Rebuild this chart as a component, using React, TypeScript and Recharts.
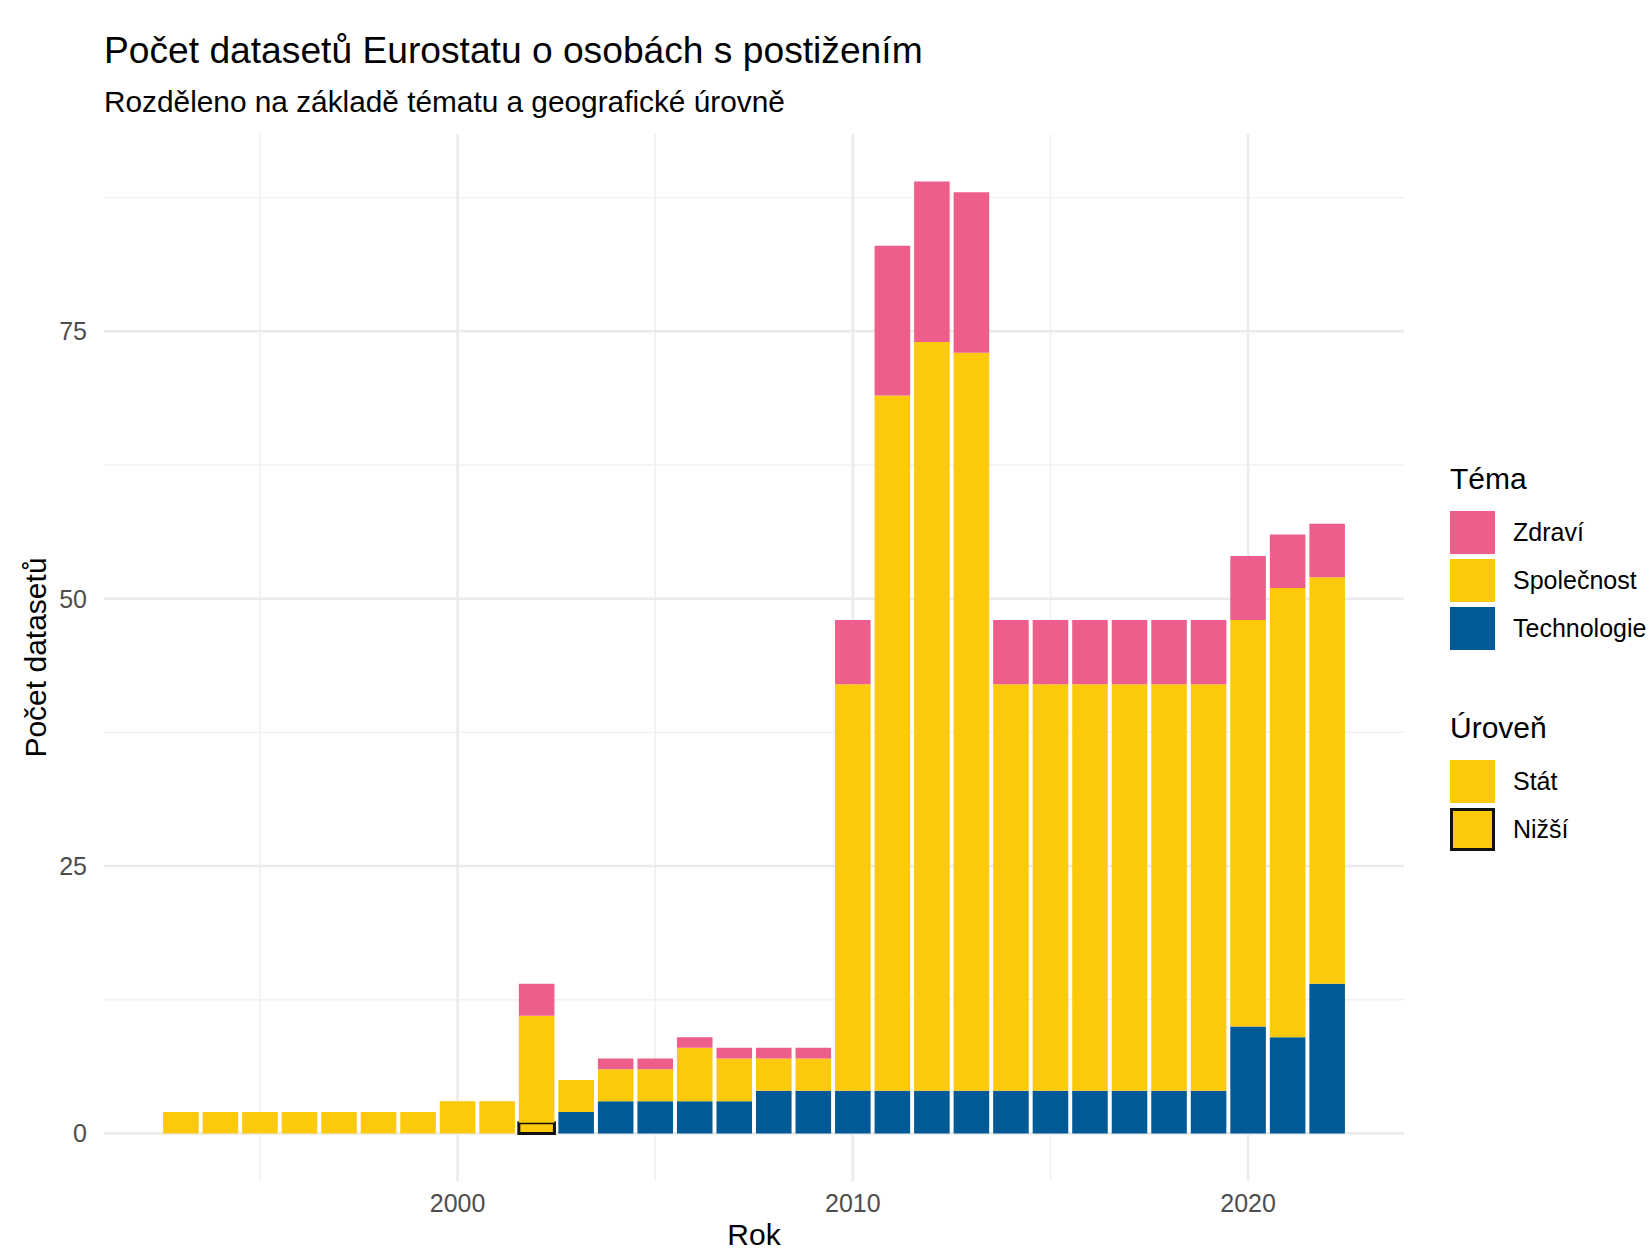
import { BarChart, Bar, XAxis, YAxis, CartesianGrid } from 'recharts'

const years = [
  1993, 1994, 1995, 1996, 1997, 1998, 1999, 2000, 2001, 2002,
  2003, 2004, 2005, 2006, 2007, 2008, 2009, 2010, 2011, 2012,
  2013, 2014, 2015, 2016, 2017, 2018, 2019, 2020, 2021, 2022,
]
const technologie = [0, 0, 0, 0, 0, 0, 0, 0, 0, 0, 2, 3, 3, 3, 3, 4, 4, 4, 4, 4, 4, 4, 4, 4, 4, 4, 4, 10, 9, 14]
const nizsi = [0, 0, 0, 0, 0, 0, 0, 0, 0, 1, 0, 0, 0, 0, 0, 0, 0, 0, 0, 0, 0, 0, 0, 0, 0, 0, 0, 0, 0, 0]
const spolecnost = [2, 2, 2, 2, 2, 2, 2, 3, 3, 10, 3, 3, 3, 5, 4, 3, 3, 38, 65, 70, 69, 38, 38, 38, 38, 38, 38, 38, 42, 38]
const zdravi = [0, 0, 0, 0, 0, 0, 0, 0, 0, 3, 0, 1, 1, 1, 1, 1, 1, 6, 14, 15, 15, 6, 6, 6, 6, 6, 6, 6, 5, 5]

const yTicks = [0, 25, 50, 75]
const yMinor = [12.5, 37.5, 62.5, 87.5]
const xTicks = [2000, 2010, 2020]
const xMinor = [1995, 2005, 2015]

const PINK = '#ee5e8a'
const YELLOW = '#fdca0b'
const BLUE = '#005a96'
const FONT = '"Liberation Sans", Arial, sans-serif'

const data = years.map((year, i) => ({
  year,
  technologie: technologie[i],
  nizsi: nizsi[i],
  spolecnost: spolecnost[i],
  zdravi: zdravi[i],
}))

// ggplot-style expansion: bar width 0.9, 5% padding
const xLo = years[0] - 0.45
const xHi = years[years.length - 1] + 0.45
const xPad = (xHi - xLo) * 0.05
const xDomain = [xLo - xPad, xHi + xPad]
const maxTotal = Math.max(...years.map((_, i) => technologie[i] + nizsi[i] + spolecnost[i] + zdravi[i]))
const yDomain = [-maxTotal * 0.05, maxTotal * 1.05]

const W = 1650
const H = 1248
const margin = { top: 134, right: 246, bottom: 0, left: 34 }
const yAxisW = 70
const xAxisH = 67
const plotW = W - margin.left - margin.right - yAxisW
const barPx = (0.9 * plotW) / (xDomain[1] - xDomain[0])

const tickStyle = { fontSize: 25, fill: '#4d4d4d', fontFamily: FONT }

const temaItems = [
  { label: 'Zdraví', color: PINK, border: false },
  { label: 'Společnost', color: YELLOW, border: false },
  { label: 'Technologie', color: BLUE, border: false },
]
const urovenItems = [
  { label: 'Stát', color: YELLOW, border: false },
  { label: 'Nižší', color: YELLOW, border: true },
]

function LegendGroup({ title, items, top }: { title: string; items: typeof temaItems; top: number }) {
  return (
    <div style={{ position: 'absolute', left: 1450, top, fontFamily: FONT }}>
      <div style={{ fontSize: 30, lineHeight: '36px', color: '#000' }}>{title}</div>
      {items.map((it, i) => (
        <div
          key={it.label}
          style={{ position: 'absolute', left: 0, top: 49 + i * 48, display: 'flex', alignItems: 'center', height: 44 }}
        >
          <div
            style={{
              width: 45,
              height: 43,
              boxSizing: 'border-box',
              background: it.color,
              border: it.border ? '3px solid #111' : 'none',
            }}
          />
          <div style={{ marginLeft: 18, fontSize: 25, color: '#000', whiteSpace: 'nowrap' }}>{it.label}</div>
        </div>
      ))}
    </div>
  )
}

export default function App() {
  return (
    <div style={{ position: 'absolute', left: 0, top: 0, width: W, height: H, background: '#fff', overflow: 'hidden' }}>
      <div style={{ position: 'absolute', left: 104, top: 30, fontFamily: FONT, fontSize: 37.2, lineHeight: '40px', color: '#000', whiteSpace: 'nowrap' }}>
        Počet datasetů Eurostatu o osobách s postižením
      </div>
      <div style={{ position: 'absolute', left: 104, top: 85, fontFamily: FONT, fontSize: 29.8, lineHeight: '34px', color: '#000', whiteSpace: 'nowrap' }}>
        Rozděleno na základě tématu a geografické úrovně
      </div>
      <BarChart width={W} height={H} data={data} margin={margin}>
        <CartesianGrid
          stroke="#f0f0f0"
          strokeWidth={1.4}
          horizontalValues={yMinor}
          verticalValues={xMinor}
          syncWithTicks
        />
        <CartesianGrid
          stroke="#ebebeb"
          strokeWidth={2.6}
          horizontalValues={yTicks}
          verticalValues={xTicks}
          syncWithTicks
        />
        <XAxis
          dataKey="year"
          type="number"
          domain={xDomain}
          allowDataOverflow
          ticks={xTicks}
          height={xAxisH}
          axisLine={false}
          tickLine={false}
          tickSize={4}
          tickMargin={9}
          tick={tickStyle}
          label={{ value: 'Rok', position: 'insideBottom', offset: 3, style: { fontSize: 30, fill: '#000', fontFamily: FONT } }}
        />
        <YAxis
          type="number"
          domain={yDomain}
          allowDataOverflow
          ticks={yTicks}
          width={yAxisW}
          axisLine={false}
          tickLine={false}
          tickSize={8}
          tickMargin={9}
          tick={tickStyle}
          label={{
            value: 'Počet datasetů',
            angle: -90,
            position: 'insideLeft',
            offset: 1,
            style: { fontSize: 30, fill: '#000', fontFamily: FONT, textAnchor: 'middle' },
          }}
        />
        <Bar dataKey="technologie" stackId="a" fill={BLUE} barSize={barPx} isAnimationActive={false} />
        <Bar dataKey="nizsi" stackId="a" fill={YELLOW} stroke="#111" strokeWidth={3} barSize={barPx} isAnimationActive={false} />
        <Bar dataKey="spolecnost" stackId="a" fill={YELLOW} barSize={barPx} isAnimationActive={false} />
        <Bar dataKey="zdravi" stackId="a" fill={PINK} barSize={barPx} isAnimationActive={false} />
      </BarChart>
      <LegendGroup title="Téma" items={temaItems} top={461} />
      <LegendGroup title="Úroveň" items={urovenItems} top={710} />
    </div>
  )
}
